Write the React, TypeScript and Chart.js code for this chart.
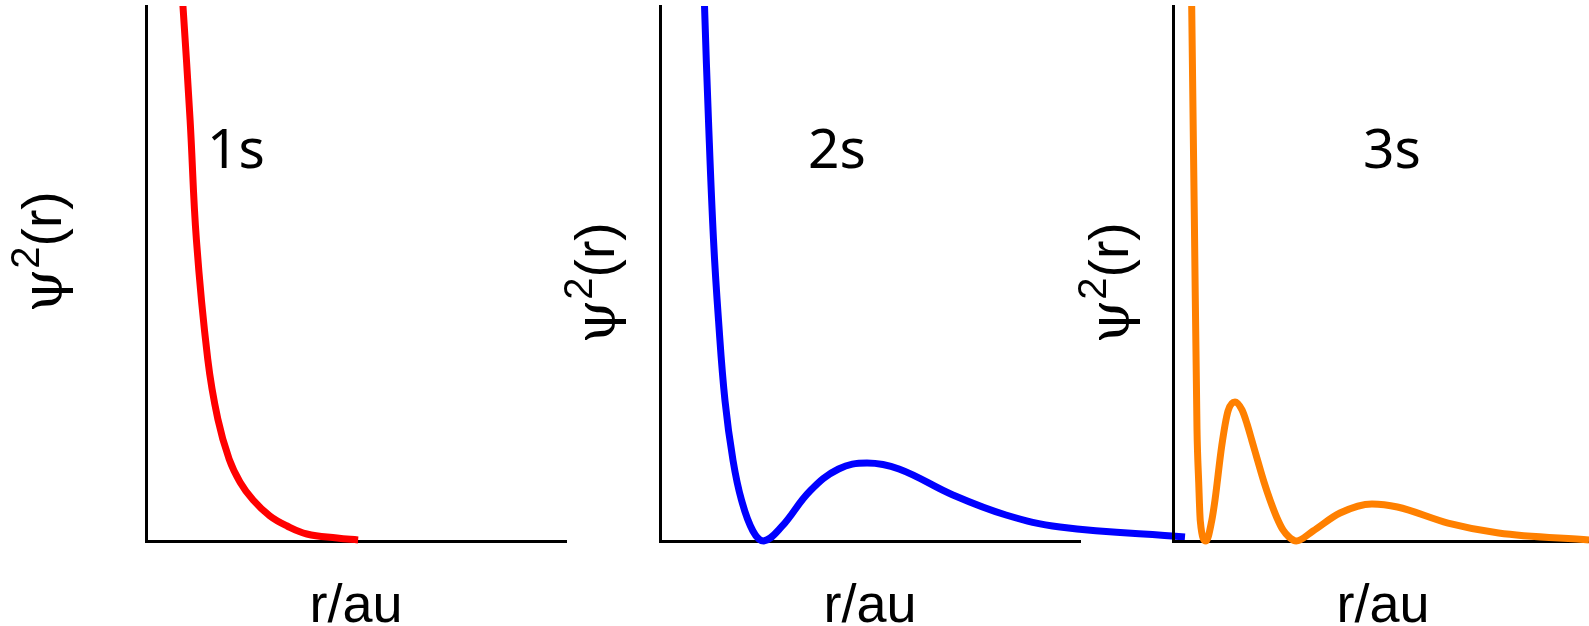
import React, { useEffect, useRef } from "react";
import { Chart, registerables } from "chart.js";

Chart.register(...registerables);

// ---- Data (r in a.u., psi^2 in arbitrary units, 0..100 = axis height) ----
const r1s = [0.82, 0.88, 1.05, 1.2, 1.47, 1.71, 1.98, 2.24, 2.55, 2.95, 3.36, 3.83, 4.55, 5.05];
const psi1s = [106.7, 100, 78.7, 56.3, 34.0, 22.8, 15.3, 11.0, 7.66, 4.67, 2.8, 1.31, 0.56, 0.19];

const r2s = [1.04, 1.06, 1.155, 1.274, 1.393, 1.548, 1.738, 1.94, 2.212, 2.467, 2.89, 3.571, 4.252, 4.929, 5.69, 6.974, 8.238, 9.524, 12.5];
const psi2s = [106.7, 100, 78.5, 56.3, 41.3, 26.2, 15.1, 7.66, 1.87, 0, 2.62, 9.35, 13.46, 14.58, 13.46, 8.6, 4.86, 2.62, 0.75];

const r3s = [0.436, 0.445, 0.507, 0.571, 0.612, 0.65, 0.786, 0.921, 1.0, 1.16, 1.31, 1.476, 1.643, 1.762, 1.881, 2.024, 2.167, 2.31, 2.476, 2.619, 2.762, 2.933, 3.333, 3.976, 4.738, 5.343, 6.548, 7.752, 9.905];
const psi3s = [106.7, 100.1, 61.1, 21.0, 11.0, 3.74, 0, 3.74, 7.66, 17.76, 24.3, 26.0, 24.5, 21.9, 18.7, 14.8, 11.0, 7.66, 4.3, 2.06, 0.75, 0, 1.87, 5.23, 6.92, 6.36, 3.36, 1.5, 0.19];

const orbitalLabels = ["1s", "2s", "3s"];
const xTitle = "r/au";
const yTitleMain = "ψ";
const yTitleSup = "2";
const yTitleRest = "(r)";
const X_MIN = 0;
const X_MAX = 10;
const Y_MIN = 0;
const Y_MAX = 100;

// ---- Layout / style ----
const W = 1589;
const H = 626;
const CANVAS_W = 1600;
const AREA_W = 420;
const PAD_TOP = 6;
const PAD_BOTTOM = 85;

const PANELS = [
  { r: r1s, v: psi1s, label: orbitalLabels[0], color: "#ff0000", smooth: "default", axisX: 146, labelDx: 61, ylabDx: -85, ylabCy: 246 },
  { r: r2s, v: psi2s, label: orbitalLabels[1], color: "#0000ff", smooth: "default", axisX: 660, labelDx: 148, ylabDx: -46, ylabCy: 277 },
  { r: r3s, v: psi3s, label: orbitalLabels[2], color: "#ff8000", smooth: "monotone", axisX: 1173, labelDx: 190, ylabDx: -45, ylabCy: 277 },
];

function makeTextPlugin(p: any) {
  return {
    id: "panelText",
    afterDraw(chart: any) {
      const { ctx, chartArea: a } = chart;
      ctx.save();
      ctx.fillStyle = "#000";
      ctx.textBaseline = "alphabetic";
      // orbital label
      ctx.textAlign = "left";
      ctx.font = '55px "Noto Sans", "DejaVu Sans", sans-serif';
      ctx.fillText(p.label, a.left + p.labelDx, a.top + 162);
      // x title
      ctx.textAlign = "center";
      ctx.font = '54px "Liberation Sans", Arial, sans-serif';
      ctx.fillText(xTitle, (a.left + a.left + AREA_W) / 2, a.bottom + 81);
      // y title (rotated, with superscript)
      ctx.translate(a.left + p.ylabDx, a.top + p.ylabCy);
      ctx.rotate(-Math.PI / 2);
      ctx.textAlign = "left";
      const fPsi = '56px "DejaVu Serif", "Liberation Serif", serif';
      const fSup = '40px "Liberation Sans", Arial, sans-serif';
      const fMain = '55px "Liberation Sans", Arial, sans-serif';
      ctx.font = fPsi;
      const w1 = ctx.measureText(yTitleMain).width;
      ctx.font = fSup;
      const w2 = ctx.measureText(yTitleSup).width;
      ctx.font = fMain;
      const w3 = ctx.measureText(yTitleRest).width;
      let x = -(w1 + w2 + w3) / 2;
      ctx.font = fPsi;
      ctx.fillText(yTitleMain, x, 0);
      x += w1;
      ctx.font = fSup;
      ctx.fillText(yTitleSup, x, -22);
      x += w2;
      ctx.font = fMain;
      ctx.fillText(yTitleRest, x, 0);
      ctx.restore();
    },
  };
}

function Panel({ p }: { p: any }) {
  const ref = useRef<HTMLCanvasElement | null>(null);
  useEffect(() => {
    if (!ref.current) return;
    const axisOpts = (min: number, max: number) => ({
      type: "linear" as const,
      min,
      max,
      ticks: { display: false },
      grid: { display: false, drawTicks: false },
      border: { display: true, color: "#000", width: 3 },
      title: { display: false },
    });
    const chart = new Chart(ref.current, {
      type: "line",
      data: {
        datasets: [
          {
            data: p.r.map((x: number, i: number) => ({ x, y: p.v[i] })),
            borderColor: p.color,
            borderWidth: 7,
            pointRadius: 0,
            fill: false,
            cubicInterpolationMode: p.smooth,
            tension: 0.4,
            borderCapStyle: "butt",
            borderJoinStyle: "round",
            clip: { left: false, top: 0, right: false, bottom: false } as any,
          },
        ],
      },
      options: {
        responsive: false,
        animation: false,
        devicePixelRatio: 1,
        events: [],
        layout: {
          padding: { left: p.axisX, right: CANVAS_W - p.axisX - AREA_W, top: PAD_TOP, bottom: PAD_BOTTOM },
        },
        plugins: { legend: { display: false }, tooltip: { enabled: false }, title: { display: false } },
        scales: { x: axisOpts(X_MIN, X_MAX), y: axisOpts(Y_MIN, Y_MAX) },
      },
      plugins: [makeTextPlugin(p)],
    } as any);
    return () => chart.destroy();
  }, [p]);
  return (
    <canvas
      ref={ref}
      width={CANVAS_W}
      height={H}
      style={{ position: "absolute", left: 0, top: 0, width: CANVAS_W, height: H }}
    />
  );
}

export default function App() {
  return (
    <div
      style={{ position: "fixed", left: 0, top: 0, width: W, height: H, overflow: "hidden", background: "#fff" }}
    >
      {PANELS.map((p, i) => (
        <Panel key={i} p={p} />
      ))}
    </div>
  );
}
